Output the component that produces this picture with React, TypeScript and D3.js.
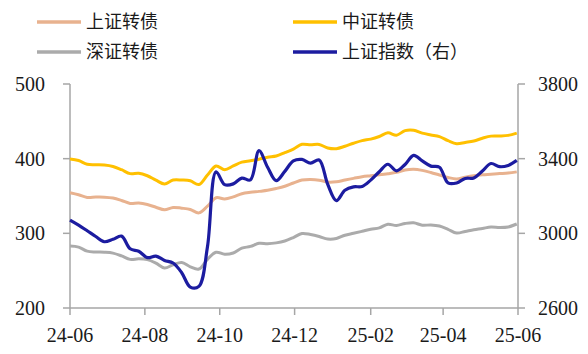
import React from "react";
import * as d3 from "d3";

const startDate = new Date(2024, 5, 1);
const endDate = new Date(2025, 5, 1);
const weekCount = 53;
const dates: Date[] = d3.range(weekCount).map((i) => d3.timeDay.offset(startDate, i * 7));

const shConv = [354.4, 351.7, 348.1, 348.5, 348.4, 347.2, 344, 340, 340.5, 338.6, 335, 331.5, 334.7, 333.7, 332, 327.4, 336.3, 347.7, 346.1, 348.9, 353.1, 355, 356.2, 357.6, 360, 363, 367.4, 371.3, 372, 371.2, 368.7, 369.1, 371.4, 373.6, 375.8, 377.1, 378.4, 379.9, 381.7, 384.8, 385.8, 384.3, 381.5, 378.1, 374.8, 372.8, 375.2, 377.2, 378.5, 379.2, 380, 380.8, 382.3];
const csiConv = [399.6, 397.5, 392.5, 391.9, 391.5, 389.6, 385.2, 380, 380.5, 377.1, 371.2, 366.1, 371.4, 371.4, 370.4, 365.4, 378.1, 390.2, 385.1, 390.2, 395.3, 397.1, 399.3, 402, 403.6, 408.1, 412.9, 419.2, 418.6, 419.1, 414.3, 413.3, 416.6, 420.7, 424.2, 426.2, 429.7, 434.6, 431.4, 437.5, 438, 434.2, 431.8, 429.6, 424.1, 419.9, 421.7, 423.7, 427.4, 430.2, 430.4, 431.2, 434.2];
const szConv = [283, 281.6, 276.1, 275, 274.7, 273.5, 269.8, 265.1, 265.9, 264.8, 260.1, 253.6, 257.9, 260.9, 255.2, 252.2, 265.2, 274.7, 272, 273.7, 280.1, 282.5, 286.6, 286.1, 287.2, 289.7, 294.4, 299.8, 298.4, 295.8, 292.4, 293.1, 297.5, 300, 302.7, 305.5, 307.3, 312.2, 310.5, 313.2, 314.1, 310.9, 311.2, 309.8, 305.4, 300.4, 302.5, 304.7, 306.5, 308.5, 307.8, 308.5, 312.5];
const shIndex = [3071, 3044, 3014, 2983, 2955, 2968, 2985, 2917, 2904, 2870, 2878, 2855, 2841, 2789, 2712, 2716, 2928, 3330, 3261, 3265, 3296, 3286, 3443, 3354, 3282, 3332, 3388, 3396, 3376, 3393, 3262, 3175, 3231, 3249, 3251, 3285, 3330, 3370, 3335, 3369, 3418, 3388, 3360, 3354, 3270, 3270, 3294, 3297, 3334, 3374, 3357, 3364, 3391];

const leftTicks = [200, 300, 400, 500];
const rightTicks = [2600, 3000, 3400, 3800];
const xTickDates = [new Date(2024, 5, 1), new Date(2024, 7, 1), new Date(2024, 9, 1), new Date(2024, 11, 1), new Date(2025, 1, 1), new Date(2025, 3, 1), new Date(2025, 5, 1)];

const legendItems = [
  { label: "上证转债", color: "#E8B28F", col: 0, row: 0 },
  { label: "中证转债", color: "#FFC000", col: 1, row: 0 },
  { label: "深证转债", color: "#ABABAB", col: 0, row: 1 },
  { label: "上证指数（右）", color: "#1C1CA0", col: 1, row: 1 },
];

export default function App() {
  const W = 588, H = 354;
  const left = 70, right = 518, top = 84, bottom = 308;
  const x = d3.scaleTime().domain([startDate, endDate]).range([left, right]);
  const yL = d3.scaleLinear().domain([200, 500]).range([bottom, top]);
  const yR = d3.scaleLinear().domain([2600, 3800]).range([bottom, top]);
  const mk = (vals: number[], sc: d3.ScaleLinear<number, number>) =>
    d3.line<number>().x((_, i) => x(dates[i])).y((v) => sc(v)).curve(d3.curveCatmullRom.alpha(0.5))(vals) || "";
  const axisColor = "#A6A6A6";
  const textColor = "#1a1a1a";
  const numFont = "'Liberation Serif', 'Times New Roman', serif";
  const cjkFont = "'Noto Sans CJK SC', sans-serif";
  return (
    <svg width={W} height={H} style={{ position: "absolute", left: 0, top: 0, background: "#fff" }}>
      {legendItems.map((it, k) => {
        const lx = it.col === 0 ? 37 : 293;
        const ly = it.row === 0 ? 22 : 52;
        return (
          <g key={k}>
            <line x1={lx} x2={lx + 44} y1={ly} y2={ly} stroke={it.color} strokeWidth={3.5} />
            <text x={lx + 49} y={ly} dy="0.36em" fontSize={18} fontFamily={cjkFont} fill={textColor}>{it.label}</text>
          </g>
        );
      })}
      <line x1={left} x2={left} y1={top} y2={bottom} stroke={axisColor} strokeWidth={1.5} />
      <line x1={right} x2={right} y1={top} y2={bottom} stroke={axisColor} strokeWidth={1.5} />
      <line x1={left} x2={right} y1={bottom} y2={bottom} stroke={axisColor} strokeWidth={1.5} />
      {leftTicks.map((t) => (
        <g key={"l" + t}>
          <line x1={left - 7} x2={left} y1={yL(t)} y2={yL(t)} stroke={axisColor} strokeWidth={1.5} />
          <text x={45} y={yL(t)} dy="0.35em" textAnchor="end" fontSize={20} fontFamily={numFont} fill={textColor}>{t}</text>
        </g>
      ))}
      {rightTicks.map((t) => (
        <g key={"r" + t}>
          <line x1={right} x2={right + 7} y1={yR(t)} y2={yR(t)} stroke={axisColor} strokeWidth={1.5} />
          <text x={538} y={yR(t)} dy="0.35em" textAnchor="start" fontSize={20} fontFamily={numFont} fill={textColor}>{t}</text>
        </g>
      ))}
      {xTickDates.map((d, k) => (
        <g key={"x" + k}>
          <line x1={x(d)} x2={x(d)} y1={bottom} y2={bottom + 7} stroke={axisColor} strokeWidth={1.5} />
          <text x={x(d)} y={342} textAnchor="middle" fontSize={20} fontFamily={numFont} fill={textColor}>{d3.timeFormat("%y-%m")(d)}</text>
        </g>
      ))}
      <path d={mk(szConv, yL)} fill="none" stroke="#ABABAB" strokeWidth={3} strokeLinejoin="round" />
      <path d={mk(shConv, yL)} fill="none" stroke="#E8B28F" strokeWidth={3} strokeLinejoin="round" />
      <path d={mk(csiConv, yL)} fill="none" stroke="#FFC000" strokeWidth={3} strokeLinejoin="round" />
      <path d={mk(shIndex, yR)} fill="none" stroke="#1C1CA0" strokeWidth={3.2} strokeLinejoin="round" />
    </svg>
  );
}
